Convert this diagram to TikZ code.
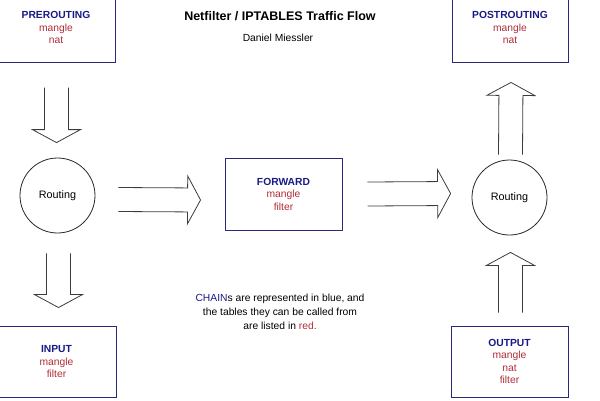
\documentclass[tikz,border=0pt]{standalone}
\usepackage{fontspec}
\setmainfont{Liberation Sans}
\usetikzlibrary{calc}

\definecolor{chainblue}{RGB}{25,25,135}
\definecolor{tablered}{RGB}{175,45,55}
\definecolor{boxline}{RGB}{40,40,125}
\definecolor{arrowgray}{RGB}{60,60,60}

\newcommand{\chainname}[1]{\textbf{\textcolor{chainblue}{#1}}}
\newcommand{\tbl}[1]{\textcolor{tablered}{#1}}

\tikzset{
  chainbox/.style={draw=boxline, line width=0.9pt, align=center, inner sep=0pt,
    font=\fontsize{10.3}{12.5}\selectfont},
  router/.style={draw=black!85, line width=0.8pt, circle, minimum size=75pt,
    inner sep=0pt, font=\fontsize{10.8}{12}\selectfont},
  fatarrow/.style={draw=arrowgray, line width=0.8pt, line join=miter, to path={
    ($(\tikztostart)!12pt!90:(\tikztotarget)$)
    -- ($($(\tikztotarget)!13pt!(\tikztostart)$)!12pt!90:(\tikztotarget)$)
    -- ($($(\tikztotarget)!13pt!(\tikztostart)$)!24pt!90:(\tikztotarget)$)
    -- (\tikztotarget)
    -- ($($(\tikztotarget)!13pt!(\tikztostart)$)!24pt!-90:(\tikztotarget)$)
    -- ($($(\tikztotarget)!13pt!(\tikztostart)$)!12pt!-90:(\tikztotarget)$)
    -- ($(\tikztostart)!12pt!-90:(\tikztotarget)$)}}
}

\begin{document}
\begin{tikzpicture}[x=1pt, y=-1pt]
  \useasboundingbox (0,0) rectangle (600,400);

  % title
  \node[font=\bfseries\fontsize{12.5}{15}\selectfont] (title) at (280,16) {Netfilter / IPTABLES Traffic Flow};
  \node[font=\fontsize{10.3}{12}\selectfont] (author) at (278,38) {Daniel Miessler};

  % chains
  \node[chainbox, minimum width=118pt, minimum height=65pt] (pre) at (56,29.5)
    {\chainname{PREROUTING}\\\tbl{mangle}\\\tbl{nat}\vspace{4pt}};
  \node[chainbox, minimum width=116pt, minimum height=65pt] (post) at (510,29.5)
    {\chainname{POSTROUTING}\\\tbl{mangle}\\\tbl{nat}\vspace{4pt}};
  \node[chainbox, minimum width=117pt, minimum height=72pt] (fwd) at (283.5,194)
    {\chainname{FORWARD}\\\tbl{mangle}\\\tbl{filter}};
  \node[chainbox, minimum width=119pt, minimum height=71pt] (input) at (56.5,361.5)
    {\chainname{INPUT}\\\tbl{mangle}\\\tbl{filter}};
  \node[chainbox, minimum width=117pt, minimum height=71pt] (output) at (509.5,361.5)
    {\chainname{OUTPUT}\\\tbl{mangle}\\\tbl{nat}\\\tbl{filter}};

  % routing decisions
  \node[router] (rtl) at (57.5,195.5) {Routing};
  \node[router] (rtr) at (509.5,197.5) {Routing};

  % arrow ends
  \coordinate (d1a) at ($(rtl.north)+(-1,-70)$);
  \coordinate (d1b) at ($(rtl.north)+(-1,-15)$);
  \coordinate (r1a) at ($(rtl.east)+(23,4)$);
  \coordinate (r1b) at ($(fwd.west)+(-24,6)$);
  \coordinate (r2a) at ($(fwd.east)+(25,0)$);
  \coordinate (r2b) at ($(rtr.west)+(-21,-4)$);
  \coordinate (u1a) at ($(rtr.north)+(1,-5)$);
  \coordinate (u1b) at ($(post.south)+(1,20)$);
  \coordinate (d2a) at ($(rtl.south)+(1,20)$);
  \coordinate (d2b) at ($(input.north)+(2,-18)$);
  \coordinate (u2a) at ($(output.north)+(1,-13)$);
  \coordinate (u2b) at ($(rtr.south)+(1,17)$);

  \draw[fatarrow] (d1a) to (d1b);
  \draw[fatarrow] (r1a) to (r1b);
  \draw[fatarrow] (r2a) to (r2b);
  \draw[fatarrow] (u1a) to (u1b);
  \draw[fatarrow] (d2a) to (d2b);
  \draw[fatarrow] (u2a) to (u2b);

  % legend
  \node[align=center, font=\fontsize{10.3}{14}\selectfont] (note) at (280,312)
    {\textcolor{chainblue}{CHAIN}s are represented in blue, and\\
     the tables they can be called from\\
     are listed in \textcolor{tablered}{red.}};
\end{tikzpicture}
\end{document}
